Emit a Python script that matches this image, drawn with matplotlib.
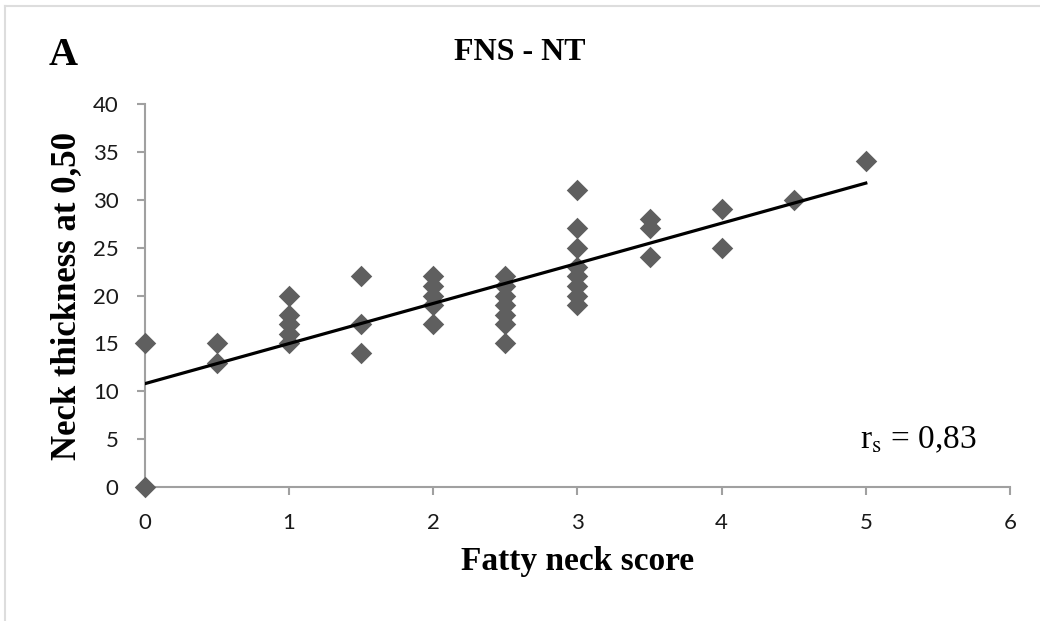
import numpy as np
import matplotlib
matplotlib.use('Agg')
import matplotlib.pyplot as plt
from matplotlib.lines import Line2D

plt.rcParams['mathtext.fontset'] = 'stix'

# fatty neck score vs neck thickness
score = [0, 0,
         0.5, 0.5,
         1, 1, 1, 1, 1,
         1.5, 1.5, 1.5,
         2, 2, 2, 2, 2,
         2.5, 2.5, 2.5, 2.5, 2.5, 2.5, 2.5,
         3, 3, 3, 3, 3, 3, 3, 3,
         3.5, 3.5, 3.5,
         4, 4,
         4.5,
         5]
thickness = [15, 0,
             15, 13,
             20, 18, 17, 16, 15,
             22, 17, 14,
             22, 21, 20, 19, 17,
             22, 21, 20, 19, 18, 17, 15,
             31, 27, 25, 23, 22, 21, 20, 19,
             28, 27, 24,
             29, 25,
             30,
             34]
rs_label = 'r$_{\\mathrm{s}}$ = 0,83'

x = np.array(score)
y = np.array(thickness)
slope, icpt = np.polyfit(x, y, 1)

fig = plt.figure(figsize=(10.4, 6.21), dpi=100)
ax = fig.add_axes([0.1394, 0.2158, 0.8317, 0.6167])

axis_col = '#a0a0a0'
ax.scatter(x, y, marker='D', s=120, color='#5f5f5f', zorder=3, clip_on=False, linewidths=0)
xs = np.array([x.min(), x.max()])
ax.plot(xs, icpt + slope * xs, color='black', linewidth=2.3, zorder=4)

ax.set_xlim(0, 6)
ax.set_ylim(0, 40)
ax.set_xticks(range(0, 7))
ax.set_yticks(range(0, 41, 5))
for s in ['top', 'right']:
    ax.spines[s].set_visible(False)
for s in ['left', 'bottom']:
    ax.spines[s].set_color(axis_col)
    ax.spines[s].set_linewidth(1.5)
ax.tick_params(direction='out', length=6, width=1.5, color=axis_col,
               labelsize=16, labelcolor='#1a1a1a', pad=13)
for lab in ax.get_xticklabels() + ax.get_yticklabels():
    lab.set_family('Lato')

ax.set_xlabel('Fatty neck score', family='Liberation Serif', weight='bold', fontsize=24, labelpad=9)
ax.set_ylabel('Neck thickness at 0,50', family='Liberation Serif', weight='bold', fontsize=25)
ax.yaxis.set_label_coords(-0.072, 0.5)
fig.text(0.5, 0.915, 'FNS - NT', family='Liberation Serif', weight='bold', fontsize=23, ha='center', va='center')
fig.text(0.047, 0.91, 'A', family='Liberation Serif', weight='bold', fontsize=29, ha='left', va='center')
ax.text(0.962, 0.123, rs_label, transform=ax.transAxes, family='Liberation Serif', fontsize=24, ha='right', va='center')

# light frame on top and left like the source image
fig.add_artist(Line2D([0.005, 1.0], [0.99, 0.99], color='#dddddd', linewidth=1.5))
fig.add_artist(Line2D([0.005, 0.005], [0.0, 0.99], color='#dddddd', linewidth=1.5))

plt.savefig('out.png', format='png', dpi=100)
